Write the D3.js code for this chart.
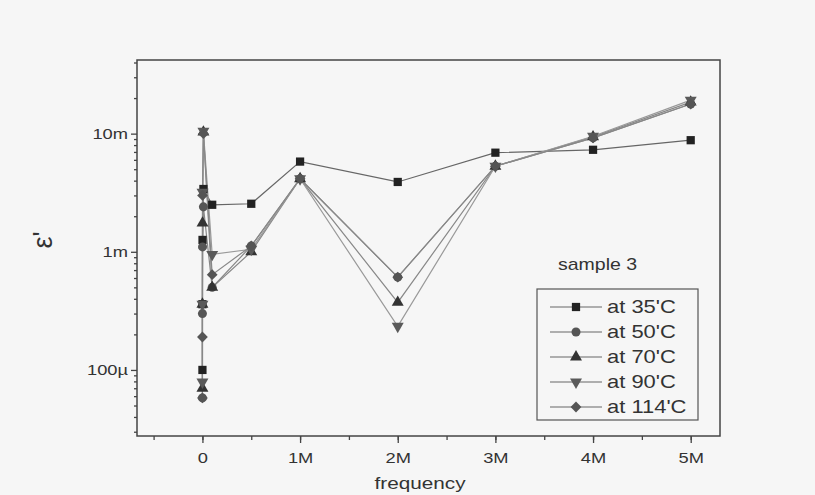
<!DOCTYPE html>
<html>
<head>
<meta charset="utf-8">
<script src="https://cdn.jsdelivr.net/npm/d3@7"></script>
<style>
  body { margin: 0; background: #f6f6f6; }
  svg { display: block; font-family: "Liberation Sans", Arial, sans-serif; }
</style>
</head>
<body>
<svg id="chart" width="815" height="495"></svg>
<script>
// frequencies (Hz) shared by every series
const freqs = [50, 100, 1e3, 1e4, 1e5, 5e5, 1e6, 2e6, 3e6, 4e6, 5e6];

// epsilon' values
const at35  = [1.0e-4, 3.6e-4, 1.26e-3, 3.4e-3, 2.5e-3, 2.55e-3, 5.8e-3, 3.9e-3, 6.9e-3, 7.3e-3, 8.8e-3];
const at50  = [5.8e-5, 3.0e-4, 1.1e-3, 2.4e-3, 5.0e-4, 1.12e-3, 4.15e-3, 6.1e-4, 5.3e-3, 9.2e-3, 17.8e-3];
const at70  = [7.0e-5, 3.6e-4, 1.75e-3, 10.3e-3, 5.0e-4, 1.0e-3, 4.15e-3, 3.73e-4, 5.3e-3, 9.4e-3, 18.5e-3];
const at90  = [7.9e-5, 3.6e-4, 3.2e-3, 10.5e-3, 9.5e-4, 1.05e-3, 4.15e-3, 2.34e-4, 5.3e-3, 9.5e-3, 19.2e-3];
const at114 = [5.8e-5, 1.9e-4, 3.0e-3, 10.0e-3, 6.4e-4, 1.12e-3, 4.15e-3, 6.1e-4, 5.3e-3, 9.2e-3, 17.8e-3];

const seriesNames = ["at 35'C", "at 50'C", "at 70'C", "at 90'C", "at 114'C"];
const seriesVals = [at35, at50, at70, at90, at114];

const xTicks = [0, 1e6, 2e6, 3e6, 4e6, 5e6];
const xTickLabels = ["0", "1M", "2M", "3M", "4M", "5M"];
const yTicks = [1e-4, 1e-3, 1e-2];
const yTickLabels = ["100\u00b5", "1m", "10m"];

const m = { left: 137, right: 720, top: 60, bottom: 436 };
const stretch = 1.22;   // the scan's lettering is wider than the font

const svg = d3.select('#chart');

const x = d3.scaleLinear().domain([-0.67e6, 5.3e6]).range([m.left, m.right]);
const y = d3.scaleLog().domain([2.76e-5, 4.2e-2]).range([m.bottom, m.top]);

const markFill = ['#222', '#555', '#333', '#5a5a5a', '#555'];
const lineCol = ['#666', '#888', '#888', '#999', '#888'];

function marker(i) {
    if (i === 0) return d3.symbol().type(d3.symbolSquare).size(68)();
    if (i === 1) return d3.symbol().type(d3.symbolCircle).size(64)();
    if (i === 4) return d3.symbol().type(d3.symbolSquare).size(58)();
    return d3.symbol().type(d3.symbolTriangle).size(62)();
}
const turn = i => (i === 3 ? ' rotate(180)' : i === 4 ? ' rotate(45)' : '');

function label(xp, yp, txt, size, anchor) {
    return svg.append('text')
        .attr('transform', 'translate(' + xp + ',' + yp + ') scale(' + stretch + ',1)')
        .attr('text-anchor', anchor || 'start')
        .attr('fill', '#333').style('font-size', size + 'px')
        .text(txt);
}

// frame
svg.append('rect')
    .attr('x', m.left).attr('y', m.top)
    .attr('width', m.right - m.left).attr('height', m.bottom - m.top)
    .attr('fill', 'none').attr('stroke', '#444').attr('stroke-width', 1.5);

// left axis: minor then major ticks
const minor = [];
for (let e = -5; e <= -2; e++) {
    for (let k = 2; k <= 9; k++) {
        const v = k * Math.pow(10, e);
        if (v >= y.domain()[0] && v <= y.domain()[1]) minor.push(v);
    }
}
const yMinor = svg.append('g').attr('transform', 'translate(' + m.left + ',0)')
    .call(d3.axisLeft(y).tickValues(minor).tickSize(3).tickFormat(''));
const yMajor = svg.append('g').attr('transform', 'translate(' + m.left + ',0)')
    .call(d3.axisLeft(y).tickValues(yTicks).tickSize(6).tickPadding(3)
        .tickFormat((d, i) => yTickLabels[i]));

// bottom axis
const xMinor = d3.range(-0.5e6, 5.3e6, 0.5e6);
const xMin = svg.append('g').attr('transform', 'translate(0,' + m.bottom + ')')
    .call(d3.axisBottom(x).tickValues(xMinor).tickSize(4).tickFormat(''));
const xMaj = svg.append('g').attr('transform', 'translate(0,' + m.bottom + ')')
    .call(d3.axisBottom(x).tickValues(xTicks).tickSize(7).tickPadding(9)
        .tickFormat((d, i) => xTickLabels[i]));

[yMinor, yMajor, xMin, xMaj].forEach(g => {
    g.select('.domain').remove();
    g.selectAll('line').attr('stroke', '#444').attr('stroke-width', 1.3);
    g.selectAll('text').attr('fill', '#333').style('font-size', '15px')
        .attr('transform', 'scale(' + stretch + ',1)');
});
yMajor.selectAll('text').attr('x', -9 / stretch);

// axis titles
label(420, 489, 'frequency', 17, 'middle');

svg.append('text')
    .attr('transform', 'translate(52,240) rotate(-90)')
    .attr('text-anchor', 'middle')
    .attr('fill', '#333').style('font-size', '27px')
    .text("\u03b5'");

// series lines and markers
const line = d3.line().x(d => x(d[0])).y(d => y(d[1]));

seriesVals.forEach((vals, i) => {
    const pts = freqs.map((f, j) => [f, vals[j]]);
    svg.append('path')
        .datum(pts)
        .attr('d', line)
        .attr('fill', 'none')
        .attr('stroke', lineCol[i])
        .attr('stroke-width', 1.2);
});

seriesVals.forEach((vals, i) => {
    const pts = freqs.map((f, j) => [f, vals[j]]);
    svg.append('g').selectAll('path')
        .data(pts)
        .enter().append('path')
        .attr('d', marker(i))
        .attr('transform', d => 'translate(' + x(d[0]) + ',' + y(d[1]) + ')' + turn(i))
        .attr('fill', markFill[i]);
});

// sample label
label(558, 270, 'sample 3', 16);

// legend
const lg = svg.append('g');
lg.append('rect')
    .attr('x', 537).attr('y', 289).attr('width', 161).attr('height', 131)
    .attr('fill', 'none').attr('stroke', '#555').attr('stroke-width', 1.2);

seriesNames.forEach((name, i) => {
    const ly = 307 + i * 25;
    lg.append('line')
        .attr('x1', 550).attr('x2', 602).attr('y1', ly).attr('y2', ly)
        .attr('stroke', '#666').attr('stroke-width', 1.2);
    lg.append('path')
        .attr('d', marker(i))
        .attr('transform', 'translate(576,' + ly + ')' + turn(i))
        .attr('fill', markFill[i]);
    label(607, ly + 6, name, 18);
});
</script>
</body>
</html>
